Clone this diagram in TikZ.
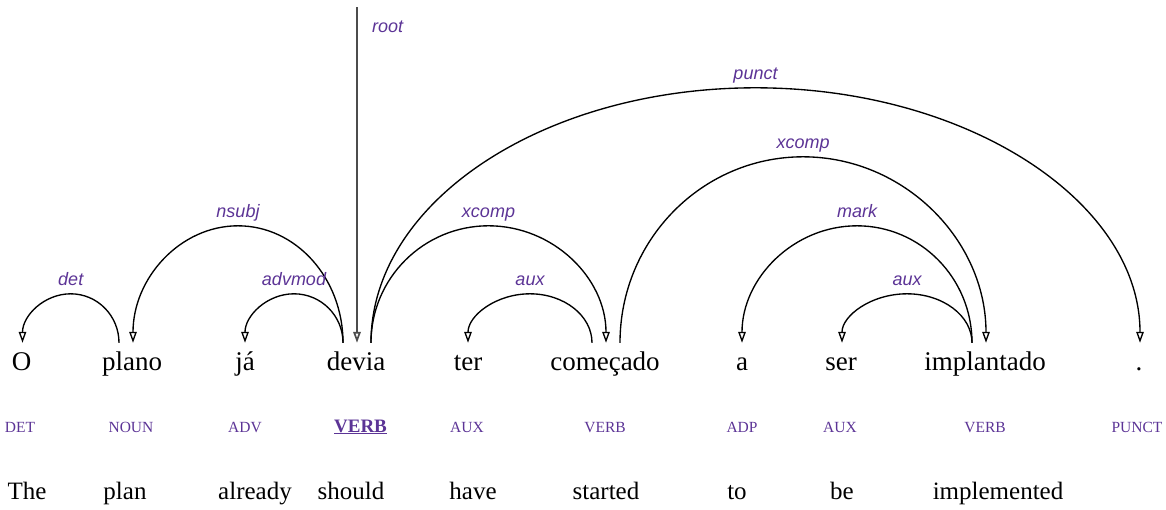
\documentclass[tikz,border=0pt]{standalone}
\usepackage{fontspec}
\setmainfont{Liberation Serif}
\newfontfamily\relfont{Liberation Sans}
\usetikzlibrary{arrows.meta,calc}
\definecolor{deppurple}{RGB}{92,52,150}

\tikzset{
  word/.style={anchor=base, inner sep=0pt, text height=18pt, text depth=6pt,
    font=\fontsize{27}{30}\selectfont},
  tag/.style={anchor=base, inner sep=0pt, text=deppurple,
    font=\fontsize{15.5}{18}\selectfont},
  headtag/.style={anchor=base, inner sep=0pt, text=deppurple,
    font=\fontsize{19}{22}\selectfont\bfseries},
  gloss/.style={anchor=base, inner sep=0pt, font=\fontsize{25}{28}\selectfont},
  rel/.style={anchor=base, inner sep=0pt, text=deppurple,
    font=\relfont\itshape\fontsize{18}{20}\selectfont},
  deparc/.style={line width=1.35pt, -{Triangle[open,length=11pt,width=7.5pt]}},
  rootarc/.style={deparc, draw=black!70, line width=1.7pt},
}

% #1 head port, #2 dependent port, #3 arc height, #4 relation, #5 label name
\newcommand\deplink[5]{%
  \draw[deparc] (#1)
    .. controls ($(#1)+(0,0.5523*#3)$) and ($(#1)!0.2239!(#2)+(0,#3)$)
    .. ($(#1)!0.5!(#2)+(0,#3)$)
    .. controls ($(#1)!0.7761!(#2)+(0,#3)$) and ($(#2)+(0,0.5523*#3)$)
    .. (#2);
  \node[rel] (#5) at ($(#1)!0.5!(#2)+(0,#3+8)$) {#4};
}

\begin{document}
\begin{tikzpicture}[x=1pt,y=1pt]
\useasboundingbox (0,0) rectangle (1166,-509);

% words
\node[word] (w1)  at (21.5,-370) {O};
\node[word] (w2)  at (132,-370)  {plano};
\node[word] (w3)  at (245,-370)  {já};
\node[word] (w4)  at (356,-370)  {devia};
\node[word] (w5)  at (468,-370)  {ter};
\node[word] (w6)  at (605,-370)  {começado};
\node[word] (w7)  at (742,-370)  {a};
\node[word] (w8)  at (841,-370)  {ser};
\node[word] (w9)  at (985,-370)  {implantado};
\node[word] (w10) at (1139,-370) {.};

% part-of-speech tags
\node[tag] (t1)  at (20,-432)   {DET};
\node[tag] (t2)  at (131,-432)  {NOUN};
\node[tag] (t3)  at (245,-432)  {ADV};
\node[headtag] (t4) at (360.5,-432) {\underline{VERB}};
\node[tag] (t5)  at (467,-432)  {AUX};
\node[tag] (t6)  at (605,-432)  {VERB};
\node[tag] (t7)  at (742,-432)  {ADP};
\node[tag] (t8)  at (840,-432)  {AUX};
\node[tag] (t9)  at (985,-432)  {VERB};
\node[tag] (t10) at (1137,-432) {PUNCT};

% English glosses
\node[gloss] (g1) at (27,-499)  {The};
\node[gloss] (g2) at (125,-499) {plan};
\node[gloss] (g3) at (255,-499) {already};
\node[gloss] (g4) at (351,-499) {should};
\node[gloss] (g5) at (473,-499) {have};
\node[gloss] (g6) at (606,-499) {started};
\node[gloss] (g7) at (737,-499) {to};
\node[gloss] (g8) at (842,-499) {be};
\node[gloss] (g9) at (998,-499) {implemented};

% attachment points above the words
\coordinate (O-in)      at ($(w1.north)+(1,9)$);
\coordinate (plano-out) at ($(w2.north)+(-13,9)$);
\coordinate (plano-in)  at ($(w2.north)+(1,9)$);
\coordinate (ja-in)     at ($(w3.north)+(0,9)$);
\coordinate (devia-l)   at ($(w4.north)+(-13,9)$);
\coordinate (devia-m)   at ($(w4.north)+(1,9)$);
\coordinate (devia-r)   at ($(w4.north)+(15,9)$);
\coordinate (ter-in)    at ($(w5.north)+(0,9)$);
\coordinate (com-l)     at ($(w6.north)+(-13,9)$);
\coordinate (com-m)     at ($(w6.north)+(1,9)$);
\coordinate (com-r)     at ($(w6.north)+(15,9)$);
\coordinate (a-in)      at ($(w7.north)+(0,9)$);
\coordinate (ser-in)    at ($(w8.north)+(1,9)$);
\coordinate (impl-l)    at ($(w9.north)+(-13,9)$);
\coordinate (impl-m)    at ($(w9.north)+(1,9)$);
\coordinate (dot-in)    at ($(w10.north)+(1,9)$);
\coordinate (root-top)  at (357,-7);

% root
\draw[rootarc] (root-top) -- (devia-m);
\node[rel, anchor=base west] (l-root) at (372,-32) {root};

% dependency arcs
\deplink{plano-out}{O-in}{49}{det}{l-det}
\deplink{devia-l}{plano-in}{117}{nsubj}{l-nsubj}
\deplink{devia-l}{ja-in}{49}{advmod}{l-advmod}
\deplink{devia-r}{com-m}{117}{xcomp}{l-xcomp1}
\deplink{com-l}{ter-in}{49}{aux}{l-aux1}
\deplink{com-r}{impl-m}{186}{xcomp}{l-xcomp2}
\deplink{impl-l}{a-in}{117}{mark}{l-mark}
\deplink{impl-l}{ser-in}{49}{aux}{l-aux2}
\deplink{devia-r}{dot-in}{255}{punct}{l-punct}
\end{tikzpicture}
\end{document}
